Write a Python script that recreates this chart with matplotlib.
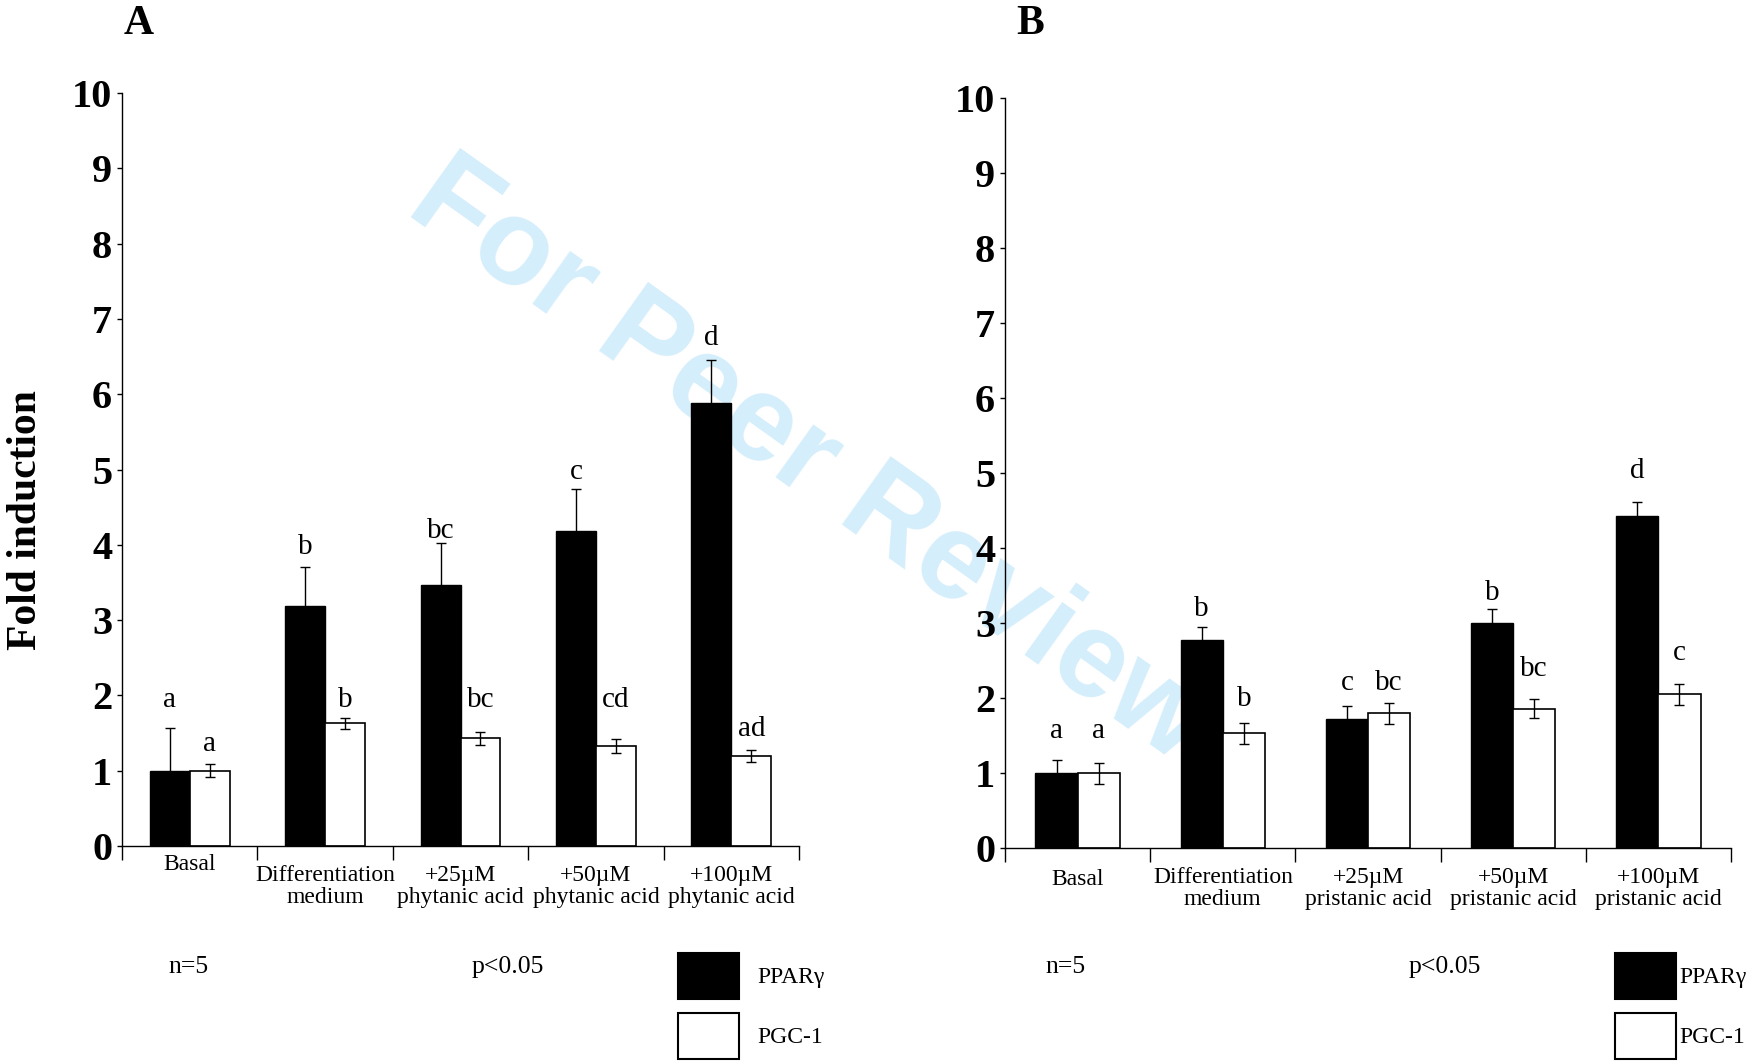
import numpy as np
import matplotlib
matplotlib.use("Agg")
import matplotlib.pyplot as plt
from matplotlib.patches import Patch

# data
cats_a = ["Basal", "Differentiation\nmedium", "+25µM\nphytanic acid",
          "+50µM\nphytanic acid", "+100µM\nphytanic acid"]
cats_b = ["Basal", "Differentiation\nmedium", "+25µM\npristanic acid",
          "+50µM\npristanic acid", "+100µM\npristanic acid"]

ppar_a = [1.00, 3.19, 3.47, 4.18, 5.88]
ppar_a_err = [0.57, 0.51, 0.56, 0.56, 0.57]
pgc_a = [1.00, 1.63, 1.43, 1.33, 1.19]
pgc_a_err = [0.09, 0.07, 0.09, 0.09, 0.08]
sig_ppar_a = ["a", "b", "bc", "c", "d"]
sig_pgc_a = ["a", "b", "bc", "cd", "ad"]
sig_ppar_a_y = [1.85, 3.88, 4.09, 4.88, 6.66]
sig_pgc_a_y = [1.26, 1.85, 1.85, 1.85, 1.46]

ppar_b = [1.00, 2.77, 1.72, 3.00, 4.43]
ppar_b_err = [0.18, 0.18, 0.18, 0.19, 0.19]
pgc_b = [1.00, 1.53, 1.80, 1.86, 2.05]
pgc_b_err = [0.14, 0.14, 0.14, 0.13, 0.14]
sig_ppar_b = ["a", "b", "c", "b", "d"]
sig_pgc_b = ["a", "b", "bc", "bc", "c"]
sig_ppar_b_y = [1.47, 3.10, 2.11, 3.30, 4.93]
sig_pgc_b_y = [1.47, 1.90, 2.11, 2.30, 2.51]

plt.rcParams['font.family'] = ['Liberation Serif', 'DejaVu Serif']

W, H = 1764, 1062
fig = plt.figure(figsize=(W / 100, H / 100), dpi=100)

ax_a = fig.add_axes([122 / W, 1 - 846 / H, 677 / W, 753 / H])
ax_b = fig.add_axes([1005 / W, 1 - 848 / H, 726 / W, 750 / H])


def draw_panel(ax, cats, ppar, ppar_err, pgc, pgc_err, s1, s1y, s2, s2y, bw, basal_off):
    x = np.arange(len(cats))
    ax.bar(x - bw / 2, ppar, bw, color="black", edgecolor="black", lw=1, zorder=2)
    ax.bar(x + bw / 2, pgc, bw, color="white", edgecolor="black", lw=1.2, zorder=2)
    ax.errorbar(x - bw / 2, ppar, yerr=ppar_err, fmt="none", ecolor="black",
                elinewidth=1, capsize=3.5, capthick=1, zorder=3)
    ax.errorbar(x + bw / 2, pgc, yerr=pgc_err, fmt="none", ecolor="black",
                elinewidth=1, capsize=3.5, capthick=1, zorder=3)
    for i in range(len(cats)):
        ax.text(x[i] - bw / 2, s1y[i], s1[i], ha="center", va="baseline", fontsize=21)
        ax.text(x[i] + bw / 2, s2y[i], s2[i], ha="center", va="baseline", fontsize=21)
        off = basal_off if i == 0 else 13.5
        ax.annotate(cats[i], xy=(x[i], 0), xycoords=("data", "axes fraction"),
                    xytext=(0, -off), textcoords="offset points",
                    ha="center", va="top", fontsize=17, linespacing=1.05)

    ax.set_xlim(-0.5, len(cats) - 0.5)
    ax.set_ylim(0, 10)
    ax.set_yticks(range(0, 11))
    ax.set_xticks(np.arange(-0.5, len(cats), 1.0))
    ax.set_xticklabels([])
    ax.tick_params(axis="x", direction="out", length=10, width=1)
    ax.tick_params(axis="y", direction="out", length=3.6, width=1, pad=3.5, labelsize=29)
    for lab in ax.get_yticklabels():
        lab.set_fontweight("bold")
    for s in ["top", "right"]:
        ax.spines[s].set_visible(False)
    for s in ["left", "bottom"]:
        ax.spines[s].set_linewidth(1)
    ax.patch.set_facecolor("none")


draw_panel(ax_a, cats_a, ppar_a, ppar_a_err, pgc_a, pgc_a_err,
           sig_ppar_a, sig_ppar_a_y, sig_pgc_a, sig_pgc_a_y, 0.295, 5.5)
draw_panel(ax_b, cats_b, ppar_b, ppar_b_err, pgc_b, pgc_b_err,
           sig_ppar_b, sig_ppar_b_y, sig_pgc_b, sig_pgc_b_y, 0.29, 15)

# panel letters and axis label
fig.text(139 / W, 1 - 24 / H, "A", ha="center", va="center", fontsize=30, fontweight="bold")
fig.text(1030 / W, 1 - 24 / H, "B", ha="center", va="center", fontsize=30, fontweight="bold")
fig.text(26 / W, 1 - 520 / H, "Fold induction", rotation=90, ha="center", va="center",
         fontsize=30, fontweight="bold")

# n and p notes
for xn, xp in [(188, 508), (1065, 1445)]:
    fig.text(xn / W, 1 - 967 / H, "n=5", ha="center", va="center", fontsize=18.5)
    fig.text(xp / W, 1 - 967 / H, "p<0.05", ha="center", va="center", fontsize=18.5)

# legends
handles = [Patch(facecolor="black", edgecolor="black", lw=1.5, label="PPARγ"),
           Patch(facecolor="white", edgecolor="black", lw=1.5, label="PGC-1")]
for x0, pad in [(678, 0.8), (1615, 0.13)]:
    fig.legend(handles=handles, loc="upper left", bbox_to_anchor=(x0 / W, 1 - 953 / H),
               bbox_transform=fig.transFigure, frameon=False, fontsize=17,
               handlelength=2.58, handleheight=2.62, labelspacing=0.6,
               handletextpad=pad, borderpad=0, borderaxespad=0)

# watermark
fig.text(809 / W, 1 - 462 / H, "For Peer Review", rotation=-35.5, ha="center", va="center",
         fontsize=88, fontweight="bold", family="Liberation Sans", color="#d5eefb", zorder=-1)

fig.savefig("out.png", dpi=100)
